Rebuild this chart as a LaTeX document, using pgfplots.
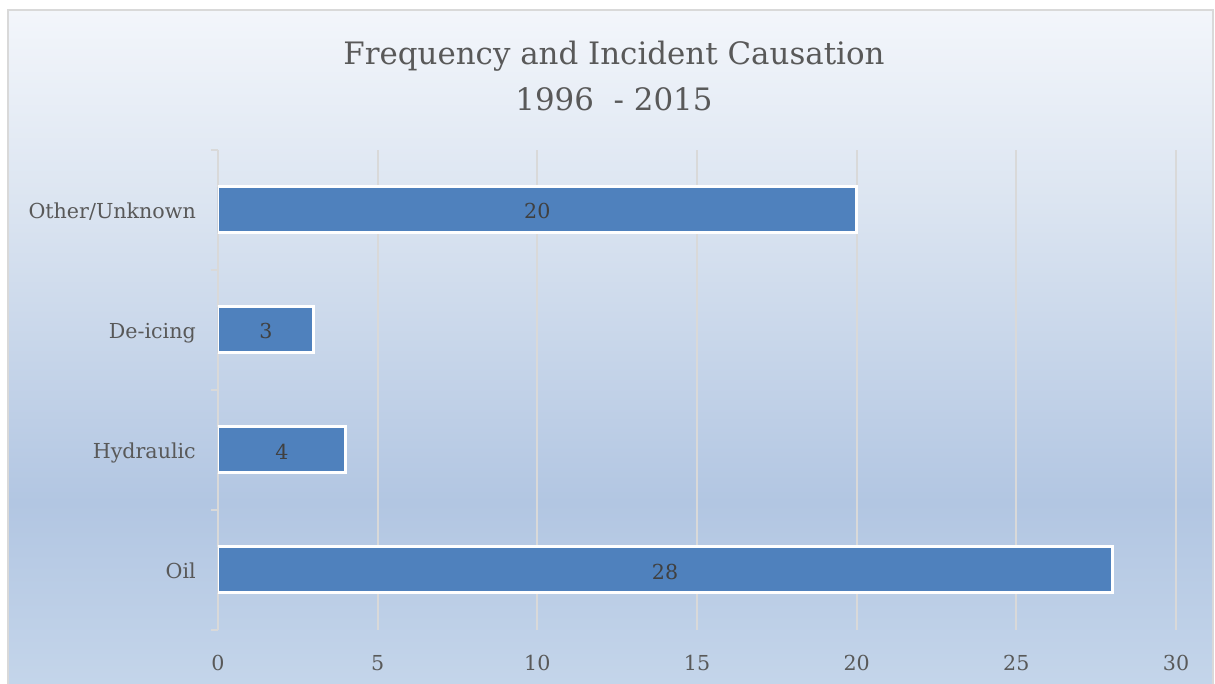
\documentclass[border=0pt]{standalone}
\usepackage{pgfplots}
\pgfplotsset{compat=1.18}
\usepackage{fontspec}
\setmainfont{DejaVu Serif}
\definecolor{barc}{HTML}{4F81BD}
\definecolor{gridc}{HTML}{D9D9D9}
\definecolor{txt}{HTML}{595959}
\definecolor{lbl}{HTML}{404040}
\definecolor{bgA}{HTML}{C4D5EA}
\definecolor{bgB}{HTML}{B2C6E2}
\definecolor{bgC}{HTML}{DCE5F1}
\definecolor{bgD}{HTML}{F3F6FB}
\pgfdeclareverticalshading{chartbg}{100bp}{color(0bp)=(bgA); color(25bp)=(bgA); color(38.5bp)=(bgB); color(61bp)=(bgC); color(75bp)=(bgD); color(100bp)=(bgD)}
\begin{document}
\begin{tikzpicture}[x=1bp,y=1bp]
\useasboundingbox (-218,-54) rectangle (997,630);
\fill[white] (-218,-54) rectangle (997,630);
\shade[shading=chartbg] (-210,-54) rectangle (995,620);
\draw[gridc, line width=1.5bp] (-210,-60) -- (-210,620) -- (995,620) -- (995,-60);
\node[txt, font=\fontsize{31}{45}\selectfont, anchor=base] at (396,565) {Frequency and Incident Causation};
\node[txt, font=\fontsize{31}{45}\selectfont, anchor=base] at (396,519) {1996\ \ - 2015};
\begin{axis}[
  at={(0,0)}, anchor=south west,
  scale only axis, width=958bp, height=480bp,
  xmin=0, xmax=30, ymin=-0.5, ymax=3.5,
  xbar, bar width=46bp,
  xtick={0,5,...,30},
  ytick={0,1,2,3},
  yticklabels={Oil,Hydraulic,De-icing,Other/Unknown},
  extra y ticks={-0.5,0.5,1.5,2.5,3.5},
  extra y tick labels={},
  extra y tick style={grid=none, major tick length=7bp, tick align=outside, tick style={gridc, line width=2bp}},
  major tick length=0pt,
  axis x line*=bottom, axis y line*=left,
  axis line style={-},
  x axis line style={draw=none},
  y axis line style={gridc, line width=2bp},
  xmajorgrids, grid style={gridc, line width=2bp},
  ticklabel style={txt, font=\fontsize{20.7}{24}\selectfont},
  /pgf/number format/assume math mode=true,
  xticklabel style={inner sep=0pt, anchor=north, yshift=-25bp},
  yticklabel style={inner sep=0pt, anchor=base east, xshift=-22bp, yshift=-8.5bp},
]
\addplot[fill=barc, draw=white, line width=3bp,
  visualization depends on=x \as \rawx,
  nodes near coords,
  nodes near coords style={lbl, font=\fontsize{20.7}{24}\selectfont, anchor=center, xshift={-15.9667bp*\rawx}, yshift=-1.5bp},
] coordinates {(28,0) (4,1) (3,2) (20,3)};
\end{axis}
\end{tikzpicture}
\end{document}
